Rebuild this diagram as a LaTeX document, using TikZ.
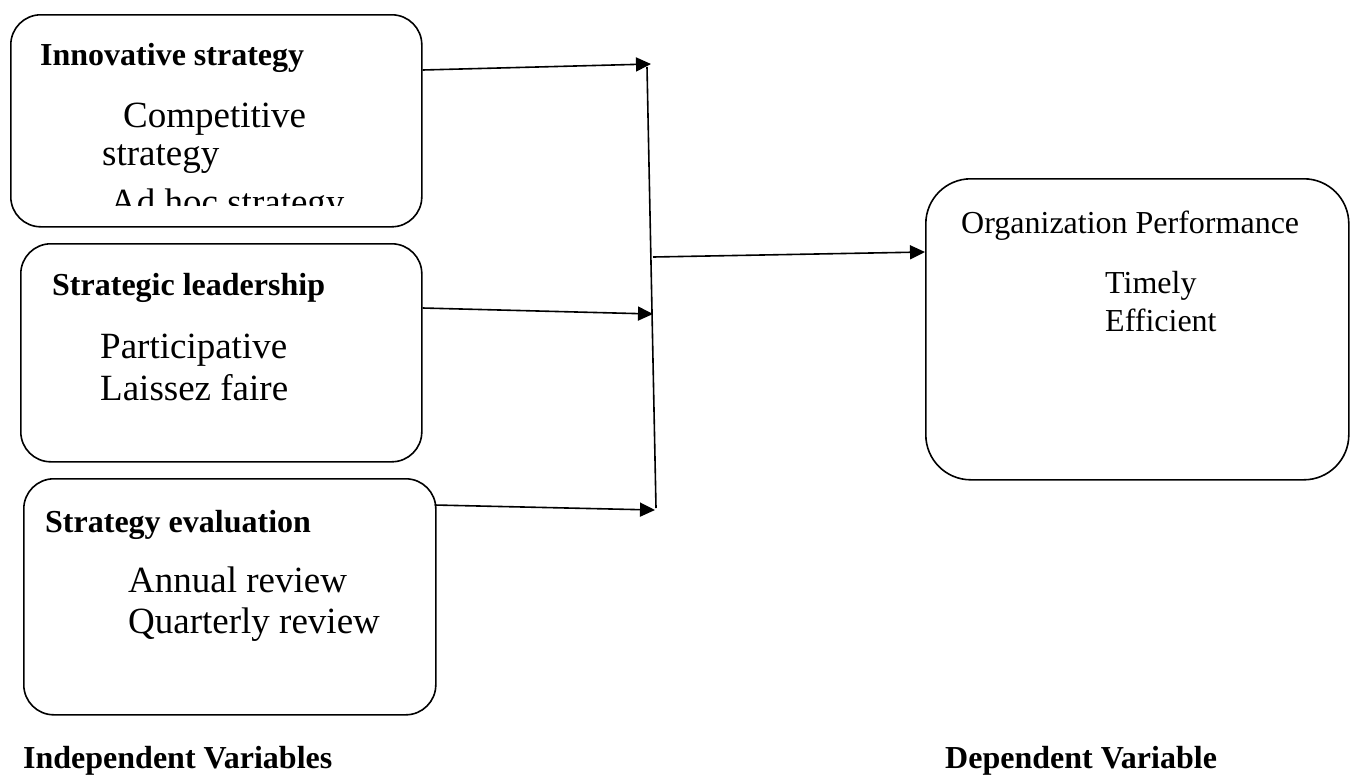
\documentclass[tikz,border=0pt]{standalone}
\usepackage{fontspec}
\setmainfont{Liberation Serif}
\usetikzlibrary{arrows.meta}
\begin{document}
\begin{tikzpicture}[x=1pt,y=-1pt,
  box/.style={draw,line width=1.6pt,rounded corners=30pt,inner sep=0pt,anchor=north west},
  rbox/.style={box,rounded corners=45pt},
  head/.style={anchor=base west,inner sep=0pt,font=\fontsize{32}{38}\selectfont\bfseries},
  item/.style={anchor=base west,inner sep=0pt,font=\fontsize{37}{44}\selectfont},
  rtext/.style={anchor=base west,inner sep=0pt,font=\fontsize{32}{38}\selectfont},
  conn/.style={line width=1.6pt,-{Triangle[length=15pt,width=14pt]}},
  stroke/.style={line width=1.6pt}]
\useasboundingbox (0,0) rectangle (1356,774);
% boxes
\node[box,minimum width=411pt,minimum height=212pt] (b1) at (10,14) {};
\node[box,minimum width=401pt,minimum height=218pt] (b2) at (20,243) {};
\node[box,minimum width=412pt,minimum height=236pt] (b3) at (23,478) {};
\node[rbox,minimum width=423pt,minimum height=301pt] (r) at (925,178) {};
% box 1 text
\node[head] (h1) at (40,65) {Innovative strategy};
\begin{scope}
\clip (10,14) rectangle (421,205);
\node[item] (c1) at (123,127) {Competitive};
\node[item] (c2) at (102,165) {strategy};
\node[item] (c3) at (110,214) {Ad hoc strategy};
\end{scope}
% box 2 text
\node[head] (h2) at (52,295) {Strategic leadership};
\node[item] (p1) at (100,358) {Participative};
\node[item] (p2) at (100,400) {Laissez faire};
% box 3 text
\node[head] (h3) at (45,532) {Strategy evaluation};
\node[item] (e1) at (128,592) {Annual review};
\node[item] (e2) at (128,633) {Quarterly review};
% right box text
\node[rtext] (o1) at (961,233) {Organization Performance};
\node[rtext] (o2) at (1105,293) {Timely};
\node[rtext] (o3) at (1105,331) {Efficient};
% labels
\node[head] (lind) at (23,768) {Independent Variables};
\node[head] (ldep) at (945,768) {Dependent Variable};
% connectors
\coordinate (v1) at (647,67);
\coordinate (v2) at (656,508);
\coordinate (t1) at (651,64);
\coordinate (t2) at (653,314);
\coordinate (t3) at (655,510);
\coordinate (hs) at (653,257);
\draw[stroke] (v1) -- (v2);
\draw[conn] ([yshift=-56pt]b1.north east) -- (t1);
\draw[conn] ([yshift=-65pt]b2.north east) -- (t2);
\draw[conn] ([yshift=-27pt,xshift=-2pt]b3.north east) -- (t3);
\draw[conn] (hs) -- ([yshift=-74pt]r.north west);
\end{tikzpicture}
\end{document}
